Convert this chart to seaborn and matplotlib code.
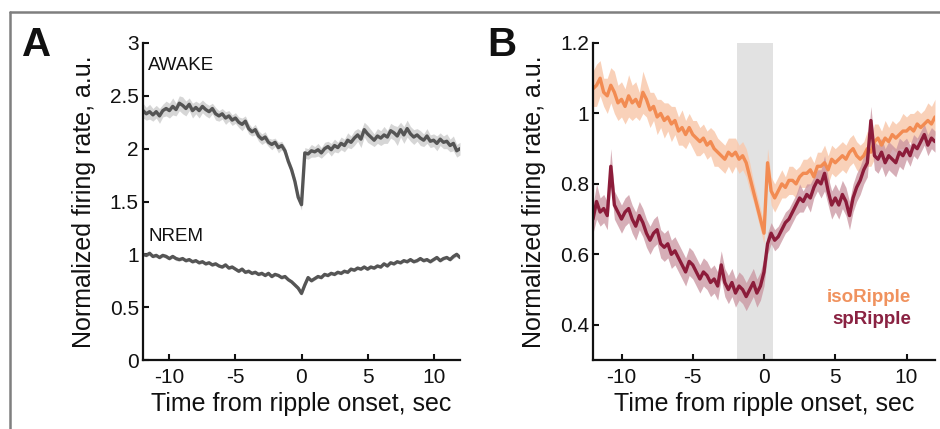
import numpy as np
import pandas as pd
import seaborn as sns
import matplotlib
matplotlib.use("Agg")
import matplotlib.pyplot as plt
from matplotlib.lines import Line2D

# ---------------- data ----------------
time_start, time_step = -12.0, 0.25  # sampling of the curves (s)

awake_mean = [
    2.36, 2.33, 2.35, 2.32,  2.35, 2.31, 2.36, 2.38,
    2.36, 2.40, 2.37, 2.43,  2.41, 2.38, 2.42, 2.36,
    2.39, 2.36, 2.40, 2.37,  2.35, 2.38, 2.33, 2.31,
    2.33, 2.29, 2.31, 2.27,  2.29, 2.25, 2.23, 2.26,
    2.19, 2.16, 2.18, 2.12,  2.09, 2.11, 2.06, 2.04,
    2.06, 2.01, 2.03, 1.98,  1.88, 1.80, 1.69, 1.54,
    1.47, 1.96, 1.95, 1.98,  1.97, 1.99, 1.96, 2.00,
    2.02, 1.99, 2.03, 2.01,  2.05, 2.03, 2.08, 2.06,
    2.10, 2.13, 2.09, 2.18,  2.14, 2.11, 2.08, 2.12,
    2.10, 2.13, 2.11, 2.17,  2.15, 2.12, 2.18, 2.13,
    2.19, 2.14, 2.11, 2.13,  2.10, 2.08, 2.12, 2.07,
    2.08, 2.05, 2.09, 2.06,  2.07, 2.03, 2.05, 1.98,
    2.00,
]
awake_sem = [
    .07, .06, .07, .06,  .06, .07, .06, .07,
    .07, .08, .06, .07,  .08, .07, .06, .07,
    .06, .07, .06, .06,  .06, .05, .06, .05,
    .05, .06, .05, .05,  .05, .05, .06, .05,
    .05, .04, .05, .05,  .05, .05, .04, .05,
    .04, .05, .04, .04,  .04, .04, .04, .04,
    .05, .05, .05, .06,  .05, .06, .05, .06,
    .05, .06, .06, .05,  .06, .06, .07, .06,
    .07, .06, .08, .07,  .08, .07, .06, .07,
    .07, .08, .06, .07,  .07, .09, .07, .08,
    .08, .07, .07, .06,  .07, .06, .07, .06,
    .06, .07, .06, .06,  .07, .06, .07, .06,
    .06,
]
nrem_mean = [
    1.00, 0.99, 1.01, 0.98,  0.99, 0.97, 0.99, 0.98,
    0.96, 0.98, 0.96, 0.95,  0.96, 0.94, 0.95, 0.93,
    0.94, 0.92, 0.93, 0.91,  0.92, 0.90, 0.91, 0.89,
    0.88, 0.90, 0.87, 0.88,  0.86, 0.84, 0.86, 0.83,
    0.84, 0.82, 0.83, 0.81,  0.82, 0.80, 0.82, 0.79,
    0.81, 0.80, 0.78, 0.79,  0.76, 0.74, 0.71, 0.68,
    0.63, 0.71, 0.78, 0.75,  0.77, 0.79, 0.78, 0.81,
    0.80, 0.82, 0.81, 0.83,  0.82, 0.84, 0.83, 0.86,
    0.85, 0.87, 0.86, 0.88,  0.86, 0.88, 0.87, 0.89,
    0.88, 0.91, 0.89, 0.92,  0.91, 0.93, 0.92, 0.94,
    0.93, 0.95, 0.93, 0.94,  0.96, 0.94, 0.95, 0.93,
    0.95, 0.97, 0.94, 0.96,  0.97, 0.95, 0.98, 1.00,
    0.97,
]
nrem_sem = [
    .015, .015, .02, .015,  .015, .015, .015, .02,
    .015, .015, .02, .015,  .015, .015, .015, .015,
    .015, .015, .015, .015,  .015, .015, .015, .015,
    .015, .015, .015, .015,  .015, .015, .015, .015,
    .015, .015, .015, .015,  .015, .015, .015, .015,
    .015, .015, .015, .015,  .015, .015, .02, .02,
    .02, .02, .015, .015,  .015, .015, .015, .015,
    .015, .015, .015, .015,  .015, .015, .015, .015,
    .015, .015, .015, .015,  .015, .015, .015, .015,
    .015, .015, .015, .015,  .015, .015, .015, .015,
    .015, .015, .015, .015,  .015, .015, .015, .015,
    .015, .015, .015, .015,  .015, .015, .02, .02,
    .015,
]
iso_mean = [
    1.07, 1.08, 1.10, 1.06,  1.05, 1.08, 1.06, 1.03,
    1.04, 1.02, 1.05, 1.03,  1.04, 1.02, 1.06, 1.04,
    1.01, 1.02, 0.99, 1.00,  0.98, 0.99, 0.97, 0.98,
    0.95, 0.96, 0.94, 0.96,  0.94, 0.93, 0.92, 0.93,
    0.91, 0.92, 0.90, 0.89,  0.88, 0.87, 0.89, 0.88,
    0.89, 0.87, 0.88, 0.86,  0.82, 0.78, 0.74, 0.70,
    0.66, 0.86, 0.78, 0.76,  0.78, 0.80, 0.79, 0.81,
    0.81, 0.80, 0.82, 0.83,  0.83, 0.84, 0.82, 0.85,
    0.85, 0.86, 0.84, 0.87,  0.86, 0.87, 0.88, 0.87,
    0.89, 0.90, 0.88, 0.87,  0.88, 0.90, 0.89, 0.92,
    0.93, 0.91, 0.93, 0.92,  0.94, 0.93, 0.94, 0.95,
    0.95, 0.96, 0.95, 0.97,  0.96, 0.97, 0.98, 0.97,
    0.99,
]
iso_sem = [
    .05, .06, .05, .04,  .05, .05, .06, .05,
    .05, .05, .06, .05,  .05, .04, .06, .05,
    .05, .04, .05, .04,  .05, .04, .05, .04,
    .04, .05, .04, .04,  .04, .05, .04, .04,
    .04, .04, .05, .04,  .04, .04, .04, .05,
    .04, .04, .04, .04,  .04, .03, .03, .03,
    .03, .04, .04, .04,  .04, .04, .03, .04,
    .04, .04, .03, .04,  .04, .04, .04, .04,
    .04, .05, .04, .04,  .04, .04, .04, .04,
    .04, .04, .04, .04,  .04, .05, .04, .05,
    .04, .04, .05, .04,  .04, .04, .04, .05,
    .04, .04, .05, .04,  .04, .04, .05, .05,
    .05,
]
sp_mean = [
    0.70, 0.75, 0.72, 0.73,  0.71, 0.85, 0.74, 0.72,
    0.70, 0.72, 0.73, 0.70,  0.68, 0.71, 0.69, 0.66,
    0.64, 0.66, 0.67, 0.63,  0.62, 0.63, 0.60, 0.61,
    0.59, 0.57, 0.55, 0.58,  0.57, 0.55, 0.53, 0.55,
    0.54, 0.52, 0.53, 0.51,  0.57, 0.52, 0.50, 0.52,
    0.49, 0.51, 0.50, 0.48,  0.50, 0.52, 0.49, 0.51,
    0.55, 0.63, 0.66, 0.64,  0.65, 0.67, 0.69, 0.70,
    0.72, 0.74, 0.76, 0.75,  0.77, 0.76, 0.79, 0.81,
    0.80, 0.83, 0.78, 0.74,  0.76, 0.74, 0.77, 0.75,
    0.71, 0.76, 0.79, 0.81,  0.84, 0.86, 0.98, 0.88,
    0.87, 0.89, 0.86, 0.88,  0.87, 0.86, 0.89, 0.88,
    0.90, 0.88, 0.91, 0.90,  0.92, 0.94, 0.91, 0.93,
    0.92,
]
sp_sem = [
    .04, .05, .04, .04,  .04, .05, .04, .04,
    .04, .04, .04, .04,  .04, .04, .04, .04,
    .04, .04, .04, .04,  .04, .04, .04, .04,
    .04, .04, .04, .04,  .04, .04, .04, .04,
    .04, .04, .04, .04,  .04, .04, .04, .04,
    .04, .04, .04, .04,  .04, .04, .04, .04,
    .04, .03, .03, .03,  .03, .03, .03, .03,
    .03, .03, .04, .03,  .03, .04, .03, .03,
    .04, .05, .04, .04,  .04, .04, .04, .04,
    .04, .04, .04, .04,  .04, .04, .04, .04,
    .04, .04, .04, .04,  .04, .04, .04, .04,
    .03, .03, .03, .03,  .03, .03, .03, .03,
    .03,
]

ripple_window = [-1.9, 0.65]

panel_a_series = ["AWAKE", "NREM"]
panel_b_series = ["isoRipple", "spRipple"]

x_ticks = [-10, -5, 0, 5, 10]
x_tick_labels = ["-10", "-5", "0", "5", "10"]
a_y_ticks = [0, 0.5, 1, 1.5, 2, 2.5, 3]
a_y_tick_labels = ["0", "0.5", "1", "1.5", "2", "2.5", "3"]
b_y_ticks = [0.4, 0.6, 0.8, 1.0, 1.2]
b_y_tick_labels = ["0.4", "0.6", "0.8", "1", "1.2"]

x_label = "Time from ripple onset, sec"
y_label = "Normalized firing rate, a.u."

# ---------------- style ----------------
sns.set_theme(style="white")
plt.rcParams["font.family"] = ["Liberation Sans", "DejaVu Sans"]

gray_line = "#555555"
gray_band = "#d6d6d6"
iso_color = "#f28b52"
iso_band = "#f9c9ad"
sp_color = "#8c1c3a"
sp_band = "#c9939f"
iso_text = "#f0925e"
sp_text = "#8a2242"

n = len(awake_mean)
t = time_start + time_step * np.arange(n)

df_a = pd.DataFrame({
    "time": np.concatenate([t, t]),
    "rate": np.concatenate([awake_mean, nrem_mean]),
    "sem": np.concatenate([awake_sem, nrem_sem]),
    "state": np.repeat(panel_a_series, n),
})
df_b = pd.DataFrame({
    "time": np.concatenate([t, t]),
    "rate": np.concatenate([iso_mean, sp_mean]),
    "sem": np.concatenate([iso_sem, sp_sem]),
    "type": np.repeat(panel_b_series, n),
})

fig = plt.figure(figsize=(9.4, 4.29), dpi=100)
W, H = 940, 429
axA = fig.add_axes([143 / W, 1 - 360 / H, 317 / W, 317 / H])
axB = fig.add_axes([593 / W, 1 - 360 / H, 342 / W, 317 / H])

# Panel A
for name in panel_a_series:
    d = df_a[df_a["state"] == name]
    axA.fill_between(d["time"], d["rate"] - d["sem"], d["rate"] + d["sem"],
                     color=gray_band, lw=0, zorder=1)
sns.lineplot(data=df_a, x="time", y="rate", hue="state",
             palette={"AWAKE": gray_line, "NREM": gray_line},
             estimator=None, errorbar=None, legend=False, lw=2.4, ax=axA, zorder=2)
axA.set_xlim(-12, 12)
axA.set_ylim(0, 3)
axA.set_yticks(a_y_ticks)
axA.set_yticklabels(a_y_tick_labels)
axA.text(-11.6, 2.79, "AWAKE", fontsize=13.5, va="center", ha="left", color="#111111")
axA.text(-11.6, 1.17, "NREM", fontsize=13.5, va="center", ha="left", color="#111111")

# Panel B
axB.axvspan(ripple_window[0], ripple_window[1], color="#e2e2e2", lw=0, zorder=0)
for name, band, alpha in zip(panel_b_series, [iso_band, sp_band], [0.85, 0.75]):
    d = df_b[df_b["type"] == name]
    axB.fill_between(d["time"], d["rate"] - d["sem"], d["rate"] + d["sem"],
                     color=band, lw=0, alpha=alpha, zorder=1)
sns.lineplot(data=df_b, x="time", y="rate", hue="type",
             palette={"isoRipple": iso_color, "spRipple": sp_color},
             estimator=None, errorbar=None, legend=False, lw=2.4, ax=axB, zorder=2)
axB.set_xlim(-12, 12)
axB.set_ylim(0.3, 1.2)
axB.set_yticks(b_y_ticks)
axB.set_yticklabels(b_y_tick_labels)
axB.text(10.3, 0.477, "isoRipple", fontsize=13.5, fontweight="bold", color=iso_text,
         ha="right", va="center")
axB.text(10.3, 0.414, "spRipple", fontsize=13.5, fontweight="bold", color=sp_text,
         ha="right", va="center")

for ax in (axA, axB):
    ax.set_xticks(x_ticks)
    ax.set_xticklabels(x_tick_labels)
    ax.set_xlabel(x_label, fontsize=18, labelpad=3, color="#111111")
    ax.set_ylabel(y_label, fontsize=18, labelpad=10, color="#111111")
    ax.tick_params(axis="both", direction="in", length=4, width=1.5,
                   labelsize=15, colors="#111111", bottom=True, left=True)
    ax.tick_params(axis="x", pad=6)
    ax.tick_params(axis="y", pad=3)
    for s in ("top", "right"):
        ax.spines[s].set_visible(False)
    for s in ("left", "bottom"):
        ax.spines[s].set_color("#111111")
        ax.spines[s].set_linewidth(1.6)
    ax.set_facecolor("none")
    ax.grid(False)

# panel letters
fig.text(22 / W, 1 - 45 / H, "A", fontsize=29, fontweight="bold", va="center", ha="left",
         color="#111111")
fig.text(487 / W, 1 - 45 / H, "B", fontsize=29, fontweight="bold", va="center", ha="left",
         color="#111111")

# outer frame (top and left)
fig.add_artist(Line2D([10 / W, 1], [1 - 12 / H, 1 - 12 / H], color="#7f7f7f", lw=1.8,
                      transform=fig.transFigure))
fig.add_artist(Line2D([10 / W, 10 / W], [0, 1 - 12 / H], color="#7f7f7f", lw=1.8,
                      transform=fig.transFigure))

fig.savefig("out.png", dpi=100)
